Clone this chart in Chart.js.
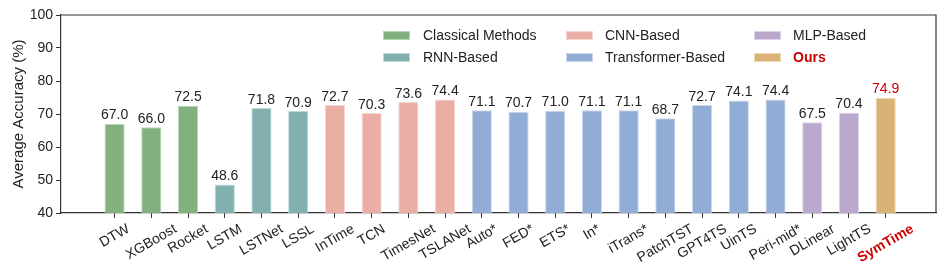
<!DOCTYPE html>
<html>
<head>
<meta charset="utf-8">
<script src="https://cdn.jsdelivr.net/npm/chart.js@4.4.0/dist/chart.umd.min.js"></script>
<style>
  html, body { margin: 0; padding: 0; background: #fff; }
  #wrap { width: 947px; height: 276px; position: relative; }
</style>
</head>
<body>
<div id="wrap"><canvas id="c" width="947" height="276"></canvas></div>
<script>
// ---- data ----
const categories = ["DTW","XGBoost","Rocket","LSTM","LSTNet","LSSL","InTime","TCN","TimesNet","TSLANet",
  "Auto*","FED*","ETS*","In*","iTrans*","PatchTST","GPT4TS","UinTS","Peri-mid*","DLinear","LightTS","SymTime"];
const accuracy = [67.0,66.0,72.5,48.6,71.8,70.9,72.7,70.3,73.6,74.4,
  71.1,70.7,71.0,71.1,71.1,68.7,72.7,74.1,74.4,67.5,70.4,74.9];
const groupOf = [0,0,0,1,1,1,2,2,2,2,3,3,3,3,3,3,3,3,3,4,4,5];
const groupNames = ["Classical Methods","RNN-Based","CNN-Based","Transformer-Based","MLP-Based","Ours"];
const yTicks = [40,50,60,70,80,90,100];

// ---- styles ----
const groupColors = ["#82B17F","#82AFAF","#EAAEA4","#91ACD5","#BAA9CD","#D9B376"];
const groupEdges  = ["#B9D6B6","#BCDADA","#F6D6D0","#C9D7EE","#DDD2E8","#EFD9B3"];
const RED = "#CC0000";
const TXT = "#222222";
const FONT = "'Liberation Sans', Arial, Helvetica, sans-serif";
const oursIndex = categories.length - 1;

const legendLayout = [ // column-major: [patchX, textX, rowY]
  [383, 423, 35.5], [383, 423, 57.5],
  [566, 605, 35.5], [566, 605, 57.5],
  [754, 793, 35.5], [754, 793, 57.5]
];

const boxPlugin = {
  id: 'box',
  afterDraw(chart) {
    const {ctx, chartArea: a} = chart;
    ctx.save();
    ctx.strokeStyle = '#333';
    ctx.lineWidth = 1.2;
    ctx.beginPath();
    ctx.moveTo(a.left, a.top); ctx.lineTo(a.right, a.top); ctx.lineTo(a.right, a.bottom);
    ctx.stroke();
    ctx.restore();
  }
};

const valueLabels = {
  id: 'valueLabels',
  afterDatasetsDraw(chart) {
    const {ctx} = chart;
    const meta = chart.getDatasetMeta(0);
    ctx.save();
    ctx.font = `14px ${FONT}`;
    ctx.textAlign = 'center';
    ctx.textBaseline = 'alphabetic';
    meta.data.forEach((bar, i) => {
      ctx.fillStyle = i === oursIndex ? RED : TXT;
      ctx.fillText(accuracy[i].toFixed(1), bar.x, bar.y - 4.5);
    });
    ctx.restore();
  }
};

const xLabels = {
  id: 'xLabels',
  afterDraw(chart) {
    const {ctx} = chart;
    const xs = chart.scales.x;
    const top = chart.chartArea.bottom + 9;
    const ang = Math.PI / 6;
    const h = 14;
    ctx.save();
    categories.forEach((lab, i) => {
      const bold = i === oursIndex;
      ctx.font = `${bold ? 'bold ' : ''}14px ${FONT}`;
      const w = ctx.measureText(lab).width;
      const H = w * Math.sin(ang) + h * Math.cos(ang);
      const cx = xs.getPixelForValue(i);
      const cy = top + H / 2;
      ctx.save();
      ctx.translate(cx, cy);
      ctx.rotate(-ang);
      ctx.fillStyle = bold ? RED : TXT;
      ctx.textAlign = 'center';
      ctx.textBaseline = 'middle';
      ctx.fillText(lab, 0, 0);
      ctx.restore();
    });
    ctx.restore();
  }
};

const legendPlugin = {
  id: 'customLegend',
  afterDraw(chart) {
    const {ctx} = chart;
    ctx.save();
    ctx.textBaseline = 'middle';
    ctx.textAlign = 'left';
    groupNames.forEach((name, g) => {
      const [px, tx, y] = legendLayout[g];
      ctx.fillStyle = groupColors[g];
      ctx.fillRect(px, y - 4.5, 27, 9);
      ctx.strokeStyle = groupEdges[g];
      ctx.lineWidth = 1;
      ctx.strokeRect(px + 0.5, y - 4, 26, 8);
      const ours = g === groupNames.length - 1;
      ctx.font = `${ours ? 'bold ' : ''}14px ${FONT}`;
      ctx.fillStyle = ours ? RED : TXT;
      ctx.fillText(name, tx, y + 0.5);
    });
    ctx.restore();
  }
};

new Chart(document.getElementById('c'), {
  type: 'bar',
  data: {
    datasets: [{
      data: categories.map((c, i) => ({x: i, y: accuracy[i]})),
      backgroundColor: groupOf.map(g => groupColors[g]),
      borderColor: groupOf.map(g => groupEdges[g]),
      borderWidth: 1,
      barPercentage: 0.55,
      categoryPercentage: 1.0
    }]
  },
  options: {
    responsive: false,
    animation: false,
    devicePixelRatio: 1,
    layout: { padding: { top: 15, right: 11, left: 0, bottom: 0 } },
    plugins: { legend: { display: false }, tooltip: { enabled: false } },
    scales: {
      x: {
        type: 'linear',
        offset: false,
        min: -1.46,
        max: 22.37,
        afterBuildTicks(scale) { scale.ticks = categories.map((c, i) => ({value: i})); },
        afterFit(scale) { scale.height = 63; },
        ticks: { display: false },
        grid: { offset: false, drawOnChartArea: false, drawTicks: true, tickLength: 5, color: '#333', lineWidth: 1 },
        border: { display: true, color: '#333', width: 1.2 }
      },
      y: {
        min: 40,
        max: 100,
        afterBuildTicks(scale) { scale.ticks = yTicks.map(v => ({value: v})); },
        afterFit(scale) { scale.width = 61; },
        ticks: { color: TXT, font: { family: FONT, size: 14 }, padding: 3 },
        grid: { drawOnChartArea: false, drawTicks: true, tickLength: 5, color: '#333', lineWidth: 1 },
        border: { display: true, color: '#333', width: 1.2 },
        title: { display: true, text: 'Average Accuracy (%)', color: TXT, font: { family: FONT, size: 15 }, padding: { top: 10, bottom: 0 } }
      }
    }
  },
  plugins: [boxPlugin, valueLabels, xLabels, legendPlugin]
});
</script>
</body>
</html>
